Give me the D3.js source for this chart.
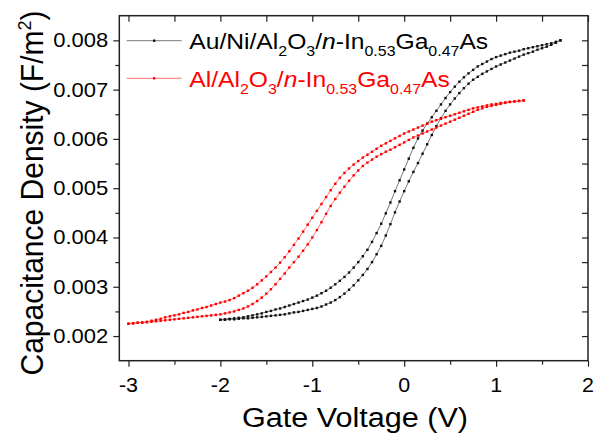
<!DOCTYPE html>
<html>
<head>
<meta charset="utf-8">
<script src="https://cdn.jsdelivr.net/npm/d3@7"></script>
<style>
body { margin: 0; background: #fff; }
text { font-family: "Liberation Sans", Arial, sans-serif; }
</style>
</head>
<body>
<div id="chart"></div>
<script>
// gate voltage sweeps (V)
var blackV = [-2.00,-1.95,-1.90,-1.85,-1.80,-1.75,-1.70,-1.65,-1.60,-1.55,-1.50,-1.45,-1.40,-1.35,-1.30,-1.25,-1.20,-1.15,-1.10,-1.05,
  -1.00,-0.95,-0.90,-0.85,-0.80,-0.75,-0.70,-0.65,-0.60,-0.55,-0.50,-0.45,-0.40,-0.35,-0.30,-0.25,-0.20,-0.15,-0.10,-0.05,
  0.00,0.05,0.10,0.15,0.20,0.25,0.30,0.35,0.40,0.45,0.50,0.55,0.60,0.65,0.70,0.75,0.80,0.85,0.90,0.95,
  1.00,1.05,1.10,1.15,1.20,1.25,1.30,1.35,1.40,1.45,1.50,1.55,1.60,1.65,1.70];
// Au/Ni/Al2O3 capacitance (F/m2), two sweep directions
var blackUp = [0.00233,0.00234,0.00235,0.00236,0.00237,0.00238,0.00240,0.00242,0.00244,0.00246,0.00249,0.00251,0.00254,0.00256,0.00259,0.00262,0.00265,0.00268,0.00271,0.00274,
  0.00278,0.00282,0.00287,0.00292,0.00298,0.00305,0.00312,0.00320,0.00329,0.00339,0.00350,0.00362,0.00375,0.00391,0.00409,0.00428,0.00449,0.00471,0.00494,0.00516,
  0.00538,0.00560,0.00582,0.00601,0.00617,0.00631,0.00644,0.00657,0.00670,0.00683,0.00695,0.00706,0.00716,0.00725,0.00733,0.00740,0.00747,0.00752,0.00757,0.00762,
  0.00766,0.00769,0.00772,0.00775,0.00777,0.00779,0.00782,0.00784,0.00786,0.00788,0.00790,0.00792,0.00794,0.00797,0.00800];
var blackDown = [0.00233,0.00233,0.00234,0.00234,0.00235,0.00236,0.00236,0.00237,0.00238,0.00239,0.00240,0.00241,0.00242,0.00243,0.00244,0.00246,0.00248,0.00249,0.00251,0.00253,
  0.00255,0.00257,0.00260,0.00264,0.00268,0.00273,0.00279,0.00286,0.00294,0.00303,0.00313,0.00324,0.00336,0.00350,0.00366,0.00383,0.00404,0.00427,0.00451,0.00473,
  0.00494,0.00514,0.00533,0.00551,0.00570,0.00589,0.00608,0.00626,0.00642,0.00657,0.00670,0.00682,0.00693,0.00703,0.00712,0.00720,0.00726,0.00732,0.00737,0.00742,
  0.00747,0.00751,0.00755,0.00759,0.00763,0.00767,0.00771,0.00774,0.00777,0.00781,0.00784,0.00787,0.00791,0.00795,0.00800];

var redV = [-3.00,-2.95,-2.90,-2.85,-2.80,-2.75,-2.70,-2.65,-2.60,-2.55,-2.50,-2.45,-2.40,-2.35,-2.30,-2.25,-2.20,-2.15,-2.10,-2.05,
  -2.00,-1.95,-1.90,-1.85,-1.80,-1.75,-1.70,-1.65,-1.60,-1.55,-1.50,-1.45,-1.40,-1.35,-1.30,-1.25,-1.20,-1.15,-1.10,-1.05,
  -1.00,-0.95,-0.90,-0.85,-0.80,-0.75,-0.70,-0.65,-0.60,-0.55,-0.50,-0.45,-0.40,-0.35,-0.30,-0.25,-0.20,-0.15,-0.10,-0.05,
  0.00,0.05,0.10,0.15,0.20,0.25,0.30,0.35,0.40,0.45,0.50,0.55,0.60,0.65,0.70,0.75,0.80,0.85,0.90,0.95,
  1.00,1.05,1.10,1.15,1.20,1.25,1.30];
// Al/Al2O3 capacitance (F/m2)
var redUp = [0.00225,0.00226,0.00227,0.00228,0.00229,0.00231,0.00233,0.00235,0.00238,0.00240,0.00242,0.00244,0.00247,0.00249,0.00252,0.00254,0.00257,0.00259,0.00262,0.00265,
  0.00268,0.00270,0.00273,0.00277,0.00282,0.00287,0.00292,0.00298,0.00305,0.00313,0.00321,0.00330,0.00339,0.00349,0.00360,0.00372,0.00385,0.00398,0.00412,0.00426,
  0.00440,0.00454,0.00468,0.00482,0.00496,0.00509,0.00521,0.00531,0.00540,0.00548,0.00555,0.00562,0.00568,0.00574,0.00580,0.00586,0.00591,0.00596,0.00601,0.00606,
  0.00611,0.00615,0.00619,0.00623,0.00627,0.00631,0.00635,0.00638,0.00641,0.00644,0.00647,0.00650,0.00653,0.00656,0.00659,0.00662,0.00664,0.00666,0.00668,0.00670,
  0.00671,0.00673,0.00674,0.00675,0.00676,0.00677,0.00678];
var redDown = [0.00225,0.00226,0.00227,0.00227,0.00228,0.00229,0.00230,0.00231,0.00232,0.00233,0.00234,0.00235,0.00236,0.00237,0.00238,0.00239,0.00240,0.00241,0.00242,0.00243,
  0.00244,0.00246,0.00248,0.00250,0.00253,0.00256,0.00260,0.00265,0.00271,0.00278,0.00286,0.00295,0.00305,0.00316,0.00327,0.00339,0.00350,0.00361,0.00373,0.00386,
  0.00400,0.00415,0.00431,0.00448,0.00464,0.00478,0.00491,0.00503,0.00515,0.00526,0.00536,0.00545,0.00552,0.00558,0.00564,0.00569,0.00574,0.00578,0.00583,0.00588,
  0.00593,0.00598,0.00603,0.00607,0.00611,0.00615,0.00619,0.00623,0.00627,0.00631,0.00635,0.00639,0.00643,0.00647,0.00651,0.00655,0.00659,0.00662,0.00665,0.00667,
  0.00669,0.00671,0.00673,0.00675,0.00676,0.00677,0.00678];

var xTicks = [-3, -2, -1, 0, 1, 2];
var xMinor = [-2.5, -1.5, -0.5, 0.5, 1.5];
var yTicks = [0.002, 0.003, 0.004, 0.005, 0.006, 0.007, 0.008];
var yMinor = [0.0025, 0.0035, 0.0045, 0.0055, 0.0065, 0.0075];

var W = 597, H = 436;
var margin = {top: 15.7, right: 9, bottom: 75.3, left: 119.3};
var SX = 1.1; // text looks a bit wide in the picture

var svg = d3.select("#chart").append("svg")
    .attr("width", W).attr("height", H);
svg.append("rect").attr("width", W).attr("height", H).attr("fill", "#fff");

var x = d3.scaleLinear().domain([-3.1, 2.0]).range([margin.left, W - margin.right]);
var y = d3.scaleLinear().domain([0.0015, 0.0085]).range([H - margin.bottom, margin.top]);

function axisStyle(g) {
    g.select(".domain").remove();
    g.selectAll(".tick line").attr("stroke", "#222").attr("stroke-width", 1.2);
}

var x0 = H - margin.bottom, y0 = margin.top;
svg.append("g").attr("transform", "translate(0," + x0 + ")")
    .call(d3.axisBottom(x).tickValues(xTicks).tickSize(6).tickFormat("")).call(axisStyle);
svg.append("g").attr("transform", "translate(0," + x0 + ")")
    .call(d3.axisBottom(x).tickValues(xMinor).tickSize(4).tickFormat("")).call(axisStyle);
svg.append("g").attr("transform", "translate(0," + y0 + ")")
    .call(d3.axisTop(x).tickValues(xTicks.concat(xMinor)).tickSize(-6).tickFormat("")).call(axisStyle);
svg.append("g").attr("transform", "translate(" + margin.left + ",0)")
    .call(d3.axisLeft(y).tickValues(yTicks).tickSize(6).tickFormat("")).call(axisStyle);
svg.append("g").attr("transform", "translate(" + margin.left + ",0)")
    .call(d3.axisLeft(y).tickValues(yMinor).tickSize(4).tickFormat("")).call(axisStyle);
svg.append("g").attr("transform", "translate(" + (W - margin.right) + ",0)")
    .call(d3.axisRight(y).tickValues(yTicks.concat(yMinor)).tickSize(-6).tickFormat("")).call(axisStyle);

// frame
svg.append("rect")
    .attr("x", margin.left).attr("y", margin.top)
    .attr("width", W - margin.right - margin.left)
    .attr("height", H - margin.bottom - margin.top)
    .attr("fill", "none").attr("stroke", "#222").attr("stroke-width", 1.5);

// tick labels
svg.selectAll(".xlab").data(xTicks).enter().append("text")
    .attr("class", "xlab")
    .attr("transform", function(d){ return "translate(" + x(d) + ",391.7) scale(" + SX + ",1)"; })
    .attr("text-anchor", "middle")
    .style("font-size", "19.5px")
    .text(function(d){ return d; });

svg.selectAll(".ylab").data(yTicks).enter().append("text")
    .attr("class", "ylab")
    .attr("transform", function(d){ return "translate(108.3," + (y(d) + 7) + ") scale(" + SX + ",1)"; })
    .attr("text-anchor", "end")
    .style("font-size", "20px")
    .text(function(d){ return d3.format(".3f")(d); });

// axis titles
svg.append("text")
    .attr("transform", "translate(355,427.3) scale(" + SX + ",1)")
    .attr("text-anchor", "middle")
    .style("font-size", "27.8px")
    .text("Gate Voltage (V)");

var yt = svg.append("text")
    .attr("transform", "translate(43.3,193) scale(1.05,1) rotate(-90)")
    .attr("text-anchor", "middle")
    .style("font-size", "30px");
yt.append("tspan").text("Capacitance Density (F/m");
yt.append("tspan").attr("dy", -12).style("font-size", "18px").text("2");
yt.append("tspan").attr("dy", 12).text(")");

// curves
var line = d3.line().x(function(d){ return x(d[0]); }).y(function(d){ return y(d[1]); });

function drawSeries(vs, cs, color, lineColor) {
    var pts = vs.map(function(v, i){ return [v, cs[i]]; });
    svg.append("path").datum(pts)
        .attr("d", line)
        .attr("fill", "none")
        .attr("stroke", lineColor)
        .attr("stroke-width", 0.8);
    svg.append("g").selectAll("rect").data(pts).enter().append("rect")
        .attr("x", function(d){ return x(d[0]) - 1.2; })
        .attr("y", function(d){ return y(d[1]) - 1.2; })
        .attr("width", 2.4).attr("height", 2.4)
        .attr("fill", color);
}

drawSeries(blackV, blackUp, "#111", "#555");
drawSeries(blackV, blackDown, "#111", "#555");
drawSeries(redV, redUp, "#f00", "#ff5050");
drawSeries(redV, redDown, "#f00", "#ff5050");

// legend
var legendItems = [
    {color: "#000", lineColor: "#555", mark: "#111", y: 40.7,
     parts: [["Au/Ni/Al",0],["2",1],["O",0],["3",1],["/",0],["n",2],["-In",0],["0.53",1],["Ga",0],["0.47",1],["As",0]]},
    {color: "#f00", lineColor: "#ff5050", mark: "#f00", y: 78.3,
     parts: [["Al/Al",0],["2",1],["O",0],["3",1],["/",0],["n",2],["-In",0],["0.53",1],["Ga",0],["0.47",1],["As",0]]}
];

legendItems.forEach(function(item){
    svg.append("line")
        .attr("x1", 126.7).attr("x2", 181.7)
        .attr("y1", item.y).attr("y2", item.y)
        .attr("stroke", item.lineColor).attr("stroke-width", 0.8);
    svg.append("rect")
        .attr("x", 154.2 - 1.2).attr("y", item.y - 1.2)
        .attr("width", 2.4).attr("height", 2.4)
        .attr("fill", item.mark);
    var t = svg.append("text")
        .attr("transform", "translate(189.3," + (item.y + 8.6) + ") scale(" + SX + ",1)")
        .attr("fill", item.color)
        .style("font-size", "22.4px");
    var shifted = false;
    item.parts.forEach(function(p){
        var ts = t.append("tspan").text(p[0]);
        if (p[1] == 1) {
            ts.style("font-size", "14.5px").attr("dy", shifted ? 0 : 7);
            shifted = true;
        } else {
            if (shifted) ts.attr("dy", -7);
            shifted = false;
            if (p[1] == 2) ts.style("font-style", "italic");
        }
    });
});
</script>
</body>
</html>
